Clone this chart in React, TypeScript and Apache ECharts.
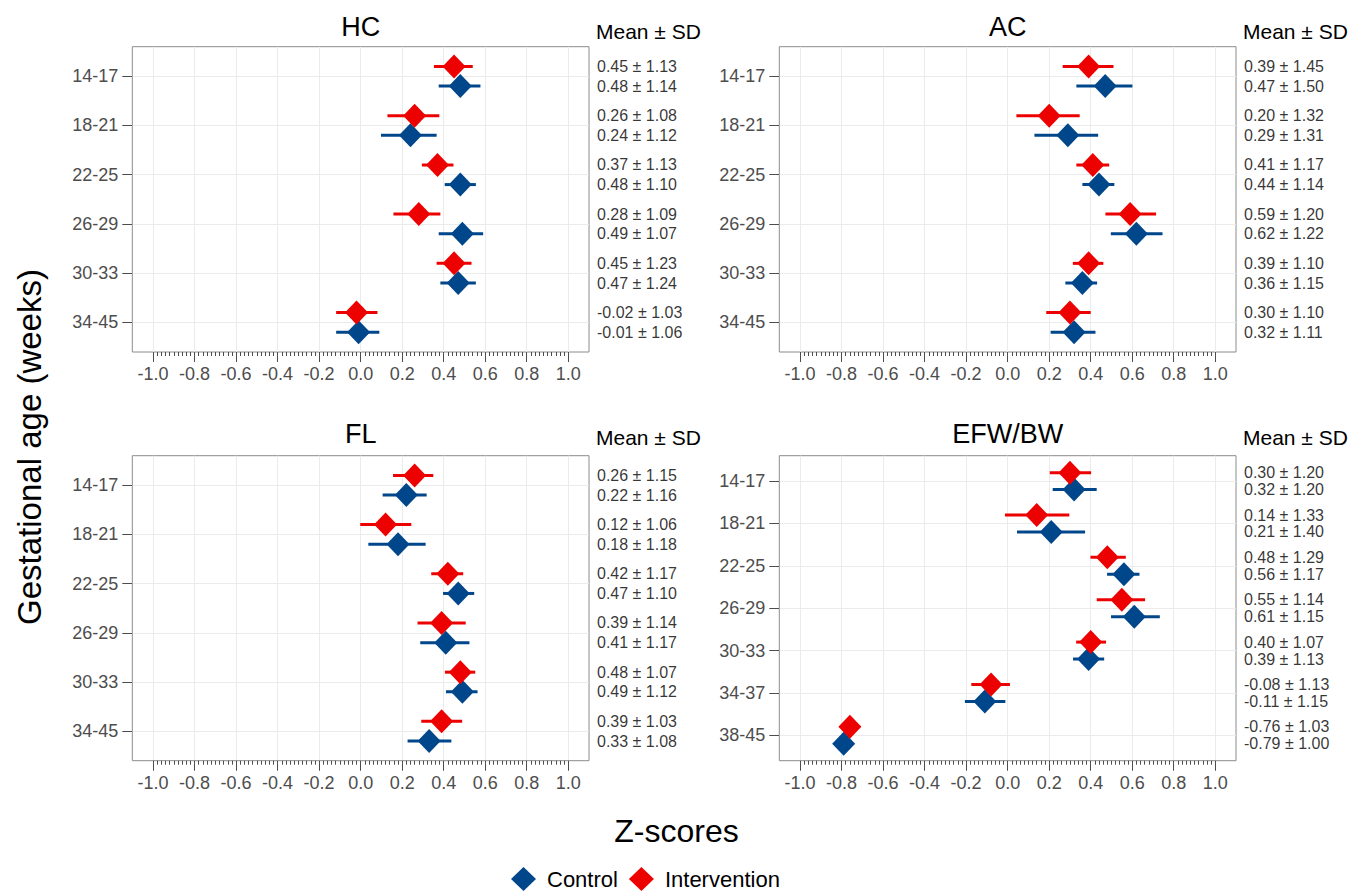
import React, { useEffect, useRef } from "react";
import * as echarts from "echarts";

// ---------------- data ----------------
const groupNames = ["Control", "Intervention"];
const panelTitles = ["HC", "AC", "FL", "EFW/BW"];
const bands6 = ["14-17", "18-21", "22-25", "26-29", "30-33", "34-45"];
const bands7 = ["14-17", "18-21", "22-25", "26-29", "30-33", "34-37", "38-45"];
const xMajorTicks = [-1.0, -0.8, -0.6, -0.4, -0.2, 0.0, 0.2, 0.4, 0.6, 0.8, 1.0];
const xMinorTicks = Array.from({ length: 101 }, (_, i) => Math.round((-1 + i * 0.02) * 100) / 100);

// HC
const hcControlMean = [0.48, 0.24, 0.48, 0.49, 0.47, -0.01];
const hcControlSD = [1.14, 1.12, 1.1, 1.07, 1.24, 1.06];
const hcControlLow = [0.376, 0.098, 0.405, 0.376, 0.384, -0.118];
const hcControlHigh = [0.577, 0.366, 0.555, 0.59, 0.555, 0.09];
const hcInterventionMean = [0.45, 0.26, 0.37, 0.28, 0.45, -0.02];
const hcInterventionSD = [1.13, 1.08, 1.13, 1.09, 1.23, 1.03];
const hcInterventionLow = [0.353, 0.129, 0.295, 0.158, 0.366, -0.118];
const hcInterventionHigh = [0.54, 0.379, 0.447, 0.384, 0.534, 0.081];

// AC
const acControlMean = [0.47, 0.29, 0.44, 0.62, 0.36, 0.32];
const acControlSD = [1.5, 1.31, 1.14, 1.22, 1.15, 1.11];
const acControlLow = [0.331, 0.129, 0.36, 0.497, 0.278, 0.207];
const acControlHigh = [0.601, 0.436, 0.514, 0.746, 0.431, 0.423];
const acInterventionMean = [0.39, 0.2, 0.41, 0.59, 0.39, 0.3];
const acInterventionSD = [1.45, 1.32, 1.17, 1.2, 1.1, 1.1];
const acInterventionLow = [0.265, 0.042, 0.331, 0.471, 0.314, 0.186];
const acInterventionHigh = [0.51, 0.347, 0.489, 0.715, 0.461, 0.4];

// FL
const flControlMean = [0.22, 0.18, 0.47, 0.41, 0.49, 0.33];
const flControlSD = [1.16, 1.18, 1.1, 1.17, 1.12, 1.08];
const flControlLow = [0.106, 0.037, 0.397, 0.287, 0.411, 0.226];
const flControlHigh = [0.318, 0.313, 0.547, 0.524, 0.563, 0.437];
const flInterventionMean = [0.26, 0.12, 0.42, 0.39, 0.48, 0.39];
const flInterventionSD = [1.15, 1.06, 1.17, 1.14, 1.07, 1.03];
const flInterventionLow = [0.156, -0.002, 0.34, 0.274, 0.406, 0.292];
const flInterventionHigh = [0.35, 0.244, 0.494, 0.506, 0.552, 0.489];

// EFW/BW
const efwControlMean = [0.32, 0.21, 0.56, 0.61, 0.39, -0.11, -0.79];
const efwControlSD = [1.2, 1.4, 1.17, 1.15, 1.13, 1.15, 1.0];
const efwControlLow = [0.217, 0.045, 0.479, 0.498, 0.315, -0.206, -0.83];
const efwControlHigh = [0.429, 0.373, 0.635, 0.733, 0.465, -0.011, -0.75];
const efwInterventionMean = [0.3, 0.14, 0.48, 0.55, 0.4, -0.08, -0.76];
const efwInterventionSD = [1.2, 1.33, 1.29, 1.14, 1.07, 1.13, 1.03];
const efwInterventionLow = [0.203, -0.013, 0.399, 0.429, 0.33, -0.175, -0.8];
const efwInterventionHigh = [0.402, 0.297, 0.569, 0.662, 0.474, 0.011, -0.72];

// ---------------- styling ----------------
const FONT = "'Liberation Sans', Arial, Helvetica, sans-serif";
const CONTROL_COLOR = "#00468B";
const INTERVENTION_COLOR = "#ED0000";
const AXIS_TEXT = "#4D4D4D";
const TICK_COLOR = "#4D4D4D";
const GRID_COLOR = "#EBEBEB";
const BORDER_COLOR = "#8C8C8C";
const X_MIN = -1.1;
const X_MAX = 1.1;
const DODGE = 0.2;

const panels = [
  {
    title: panelTitles[0], bands: bands6,
    cMean: hcControlMean, cSD: hcControlSD, cLow: hcControlLow, cHigh: hcControlHigh,
    iMean: hcInterventionMean, iSD: hcInterventionSD, iLow: hcInterventionLow, iHigh: hcInterventionHigh,
    left: 132.3, top: 46.7, width: 456.7, height: 305.3,
  },
  {
    title: panelTitles[1], bands: bands6,
    cMean: acControlMean, cSD: acControlSD, cLow: acControlLow, cHigh: acControlHigh,
    iMean: acInterventionMean, iSD: acInterventionSD, iLow: acInterventionLow, iHigh: acInterventionHigh,
    left: 779.3, top: 46.7, width: 456.7, height: 305.3,
  },
  {
    title: panelTitles[2], bands: bands6,
    cMean: flControlMean, cSD: flControlSD, cLow: flControlLow, cHigh: flControlHigh,
    iMean: flInterventionMean, iSD: flInterventionSD, iLow: flInterventionLow, iHigh: flInterventionHigh,
    left: 132.3, top: 455.7, width: 456.7, height: 305,
  },
  {
    title: panelTitles[3], bands: bands7,
    cMean: efwControlMean, cSD: efwControlSD, cLow: efwControlLow, cHigh: efwControlHigh,
    iMean: efwInterventionMean, iSD: efwInterventionSD, iLow: efwInterventionLow, iHigh: efwInterventionHigh,
    left: 779.3, top: 455.7, width: 456.7, height: 305,
  },
];

function errRender(color: string) {
  return (_params: any, api: any) => {
    const p1 = api.coord([api.value(0), api.value(2)]);
    const p2 = api.coord([api.value(1), api.value(2)]);
    return {
      type: "line",
      shape: { x1: p1[0], y1: p1[1], x2: p2[0], y2: p2[1] },
      style: { stroke: color, lineWidth: 3, lineCap: "butt" },
    };
  };
}

function fmt(v: number) {
  return v.toFixed(2);
}

function buildOption() {
  const grid: any[] = [];
  const xAxis: any[] = [];
  const yAxis: any[] = [];
  const series: any[] = [];
  const graphic: any[] = [];

  panels.forEach((p, i) => {
    grid.push({
      left: p.left, top: p.top, width: p.width, height: p.height,
      show: true, borderColor: BORDER_COLOR, borderWidth: 1,
      backgroundColor: "rgba(0,0,0,0)", containLabel: false, outerBoundsMode: "none",
    });
    // minor tick axis
    xAxis.push({
      gridIndex: i, type: "value", min: X_MIN, max: X_MAX, position: "bottom",
      axisLine: { show: false, onZero: false },
      axisTick: { show: true, length: 4, customValues: xMinorTicks, lineStyle: { color: TICK_COLOR, width: 1 } },
      axisLabel: { show: false },
      splitLine: { show: false },
    });
    // major tick axis
    xAxis.push({
      gridIndex: i, type: "value", min: X_MIN, max: X_MAX, position: "bottom",
      axisLine: { show: false, onZero: false },
      axisTick: { show: true, length: 10, customValues: xMajorTicks, lineStyle: { color: TICK_COLOR, width: 1 } },
      axisLabel: {
        show: true, customValues: xMajorTicks, formatter: (v: number) => v.toFixed(1),
        fontSize: 18, color: AXIS_TEXT, margin: 13, fontFamily: FONT,
      },
      splitLine: { show: true, lineStyle: { color: GRID_COLOR, width: 1 } },
    });
    const cats = p.bands.map((_, k) => k + 1);
    yAxis.push({
      gridIndex: i, type: "value", min: 0.4, max: p.bands.length + 0.6, inverse: true, position: "left",
      axisLine: { show: false, onZero: false },
      axisTick: { show: true, length: 10, customValues: cats, lineStyle: { color: TICK_COLOR, width: 1 } },
      axisLabel: {
        show: true, customValues: cats,
        formatter: (v: number) => p.bands[Math.round(v) - 1] ?? "",
        fontSize: 18, color: AXIS_TEXT, margin: 14, fontFamily: FONT,
      },
      splitLine: { show: true, lineStyle: { color: GRID_COLOR, width: 1 } },
    });

    const xi = 2 * i + 1;
    const groups = [
      { name: groupNames[0], color: CONTROL_COLOR, mean: p.cMean, sd: p.cSD, low: p.cLow, high: p.cHigh, off: DODGE, z: 3 },
      { name: groupNames[1], color: INTERVENTION_COLOR, mean: p.iMean, sd: p.iSD, low: p.iLow, high: p.iHigh, off: -DODGE, z: 5 },
    ];
    groups.forEach((g) => {
      series.push({
        type: "custom", name: g.name + " CI", xAxisIndex: xi, yAxisIndex: i, silent: true, z: 2,
        encode: { x: [0, 1], y: 2 },
        data: g.low.map((lo, k) => [lo, g.high[k], k + 1 + g.off]),
        renderItem: errRender(g.color),
      });
    });
    groups.forEach((g) => {
      series.push({
        type: "scatter", name: g.name, xAxisIndex: xi, yAxisIndex: i, silent: true, z: g.z,
        symbol: "diamond", symbolSize: [23, 24],
        itemStyle: { color: g.color, opacity: 1 },
        data: g.mean.map((m, k) => [m, k + 1 + g.off]),
      });
      series.push({
        type: "scatter", name: g.name + " label", xAxisIndex: xi, yAxisIndex: i, silent: true, z: 6,
        symbolSize: 0, clip: false,
        data: g.mean.map((m, k) => [X_MAX, k + 1 + g.off, m, g.sd[k]]),
        label: {
          show: true, position: "right", distance: 8,
          formatter: (q: any) => `${fmt(q.data[2])} ± ${fmt(q.data[3])}`,
          fontSize: 16, color: "#000", fontFamily: FONT,
        },
      });
    });

    const isTop = p.top < 100;
    graphic.push({
      type: "text", x: p.left + p.width / 2, y: isTop ? 27 : 434,
      style: { text: p.title, fontSize: 27, fill: "#000", fontFamily: FONT, align: "center", verticalAlign: "middle" },
    });
    graphic.push({
      type: "text", x: p.left + p.width + 7, y: isTop ? 31 : 437,
      style: { text: "Mean ± SD", fontSize: 21, fill: "#000", fontFamily: FONT, align: "left", verticalAlign: "middle" },
    });
  });

  graphic.push({
    type: "text", x: 29, y: 447, rotation: Math.PI / 2,
    style: { text: "Gestational age (weeks)", fontSize: 33, fill: "#000", fontFamily: FONT, align: "center", verticalAlign: "middle" },
  });
  graphic.push({
    type: "text", x: 676.5, y: 831,
    style: { text: "Z-scores", fontSize: 32, fill: "#000", fontFamily: FONT, align: "center", verticalAlign: "middle" },
  });

  return {
    animation: false,
    backgroundColor: "#ffffff",
    textStyle: { fontFamily: FONT },
    legend: {
      data: groupNames,
      left: 511,
      top: 867,
      padding: 0,
      orient: "horizontal",
      icon: "diamond",
      itemWidth: 25,
      itemHeight: 24,
      itemGap: 11,
      selectedMode: false,
      textStyle: { fontSize: 22, color: "#000", fontFamily: FONT, padding: [0, 0, 0, 6] },
    },
    grid,
    xAxis,
    yAxis,
    series,
    graphic,
  };
}

export default function App() {
  const ref = useRef<HTMLDivElement>(null);
  useEffect(() => {
    if (!ref.current) return;
    const chart = echarts.init(ref.current, undefined, { renderer: "svg" });
    chart.setOption(buildOption() as any);
    return () => chart.dispose();
  }, []);
  return (
    <div
      ref={ref}
      style={{ position: "absolute", left: 0, top: 0, width: 1355, height: 894, background: "#fff" }}
    />
  );
}
